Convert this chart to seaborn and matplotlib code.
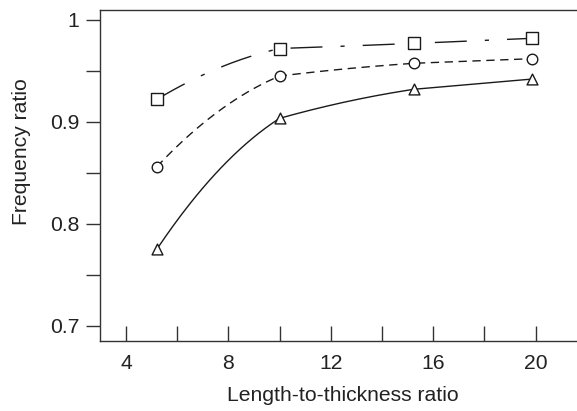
import numpy as np
import pandas as pd
import matplotlib
matplotlib.use("Agg")
import matplotlib.pyplot as plt
import seaborn as sns

# values
lt_ratio = [5.2, 10.0, 15.25, 19.85]
freq_square = [0.922, 0.972, 0.977, 0.982]
freq_circle = [0.856, 0.945, 0.9575, 0.962]
freq_triangle = [0.775, 0.9035, 0.932, 0.942]

x_ticks = [4, 8, 12, 16, 20]
y_ticks = [0.7, 0.8, 0.9, 1.0]
y_tick_labels = ["0.7", "0.8", "0.9", "1"]


def smooth_curve(x, y, n=60):
    """Quadratic piece per segment: end slope = mean of this and next chord."""
    x = np.asarray(x, float)
    y = np.asarray(y, float)
    h = np.diff(x)
    d = np.diff(y) / h
    xs_all, ys_all = [], []
    for k in range(len(h)):
        s1 = (d[k] + d[k + 1]) / 2 if k + 1 < len(d) else d[k]
        s0 = 2 * d[k] - s1
        t = np.linspace(0, 1, n)
        xs = x[k] + t * h[k]
        ys = (2 * t**3 - 3 * t**2 + 1) * y[k] + (t**3 - 2 * t**2 + t) * h[k] * s0 \
            + (-2 * t**3 + 3 * t**2) * y[k + 1] + (t**3 - t**2) * h[k] * s1
        xs_all.append(xs if k == 0 else xs[1:])
        ys_all.append(ys if k == 0 else ys[1:])
    return np.concatenate(xs_all), np.concatenate(ys_all)


sns.set_style("ticks")
plt.rcParams["font.family"] = ["Liberation Sans", "DejaVu Sans"]

fig = plt.figure(figsize=(5.77, 4.11), dpi=100)
ax = fig.add_axes([0.1733, 0.1703, 0.8267, 0.8054])

line_col = "#1a1a1a"
text_col = "#222222"
fs = 15.2

series = [
    (freq_square, "s", (0, (23, 13, 3, 13)), 8.0),
    (freq_circle, "o", (0, (6, 4)), 7.6),
    (freq_triangle, "^", "-", 7.8),
]

for vals, mk, ls, ms in series:
    xs, ys = smooth_curve(lt_ratio, vals)
    ax.plot(xs, ys, color=line_col, lw=1.0, ls=ls, zorder=2)
    df = pd.DataFrame({"x": lt_ratio, "y": vals})
    sns.scatterplot(data=df, x="x", y="y", marker=mk, s=ms**2, facecolor="white",
                    edgecolor=line_col, linewidth=1.0, ax=ax, zorder=3)

ax.set_xlim(2.98, 21.62)
ax.set_ylim(0.685, 1.0098)

ax.set_xticks(x_ticks)
ax.set_xticks([6, 10, 14, 18], minor=True)
ax.set_yticks(y_ticks)
ax.set_yticklabels(y_tick_labels)
ax.set_yticks([0.75, 0.85, 0.95], minor=True)

ax.tick_params(axis="x", which="both", direction="in", length=10.5, width=1.0,
               color="#333333", labelsize=fs, pad=9.5, labelcolor=text_col)
ax.tick_params(axis="y", which="both", direction="out", length=10, width=1.0,
               color="#333333", labelsize=fs, pad=5, labelcolor=text_col)

for side in ["left", "bottom", "top"]:
    ax.spines[side].set_color("#333333")
    ax.spines[side].set_linewidth(1.0)
ax.spines["right"].set_visible(False)

ax.set_xlabel("Length-to-thickness ratio", fontsize=fs, color=text_col)
ax.set_ylabel("Frequency ratio", fontsize=fs, color=text_col)
ax.xaxis.set_label_coords(0.509, -0.137)
ax.yaxis.set_label_coords(-0.145, 0.571)

fig.savefig("out.png", dpi=100)
